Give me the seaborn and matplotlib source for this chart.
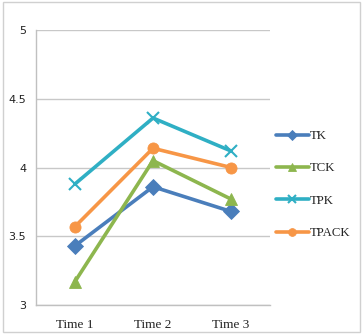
import numpy as np
import pandas as pd
import matplotlib
matplotlib.use("Agg")
import matplotlib.pyplot as plt
import seaborn as sns
from matplotlib.patches import Rectangle

times = ["Time 1", "Time 2", "Time 3"]
tk = [3.43, 3.86, 3.68]
tck = [3.17, 4.05, 3.77]
tpk = [3.88, 4.36, 4.12]
tpack = [3.57, 4.14, 4.00]

series = ["TK", "TCK", "TPK", "TPACK"]
colors = {"TK": "#4A7EBB", "TCK": "#8DB64E", "TPK": "#2FAFC4", "TPACK": "#F79646"}
markers = {"TK": "D", "TCK": "^", "TPK": "x", "TPACK": "o"}

rows = []
for name, vals in zip(series, [tk, tck, tpk, tpack]):
    for i, v in enumerate(vals):
        rows.append({"time": i, "label": times[i], "series": name, "value": v})
df = pd.DataFrame(rows)

sns.set_style("white")

fig = plt.figure(figsize=(3.63, 3.34), dpi=100)
ax = fig.add_axes([0.099, 0.087, 0.645, 0.823])

for name in series:
    d = df[df["series"] == name]
    sns.lineplot(data=d, x="time", y="value", ax=ax, color=colors[name],
                 linewidth=2.6, marker=markers[name],
                 markersize=8 if name != "TCK" else 9,
                 markeredgewidth=1.5 if name == "TPK" else 0.6,
                 markeredgecolor=colors[name], label=name)

ax.set_xlim(-0.5, 2.5)
ax.set_ylim(3, 5)
ax.set_yticks([3, 3.5, 4, 4.5, 5])
ax.set_yticklabels(["3", "3.5", "4", "4.5", "5"], fontsize=8,
                   family="DejaVu Sans", color="#222222")
ax.set_xticks([0, 1, 2])
ax.set_xticklabels(times, fontsize=9.5, family="Liberation Serif", color="#222222")
ax.set_xticks([-0.5, 0.5, 1.5, 2.5], minor=True)
ax.tick_params(axis="x", which="major", length=0, pad=10)
ax.tick_params(axis="x", which="minor", length=3, color="#bbbbbb", width=1)
ax.tick_params(axis="y", length=3, color="#bbbbbb", width=1, pad=4)
ax.set_xlabel("")
ax.set_ylabel("")
ax.grid(axis="y", color="#c8c8c8", linewidth=1)
ax.set_axisbelow(True)
for s in ["top", "right"]:
    ax.spines[s].set_visible(False)
for s in ["left", "bottom"]:
    ax.spines[s].set_color("#c0c0c0")
    ax.spines[s].set_linewidth(1)

ax.legend(loc="center left", bbox_to_anchor=(0.745, 0.447),
          bbox_transform=fig.transFigure, frameon=False,
          prop={"family": "Liberation Serif", "size": 9.2},
          labelspacing=1.6, handlelength=2.6, handletextpad=0.1,
          borderaxespad=0, markerscale=0.7)

fig.patches.append(Rectangle((0.008, 0.006), 0.984, 0.988, transform=fig.transFigure,
                             fill=False, edgecolor="#d0d0d0", linewidth=1))

fig.savefig("out.png", dpi=100)
